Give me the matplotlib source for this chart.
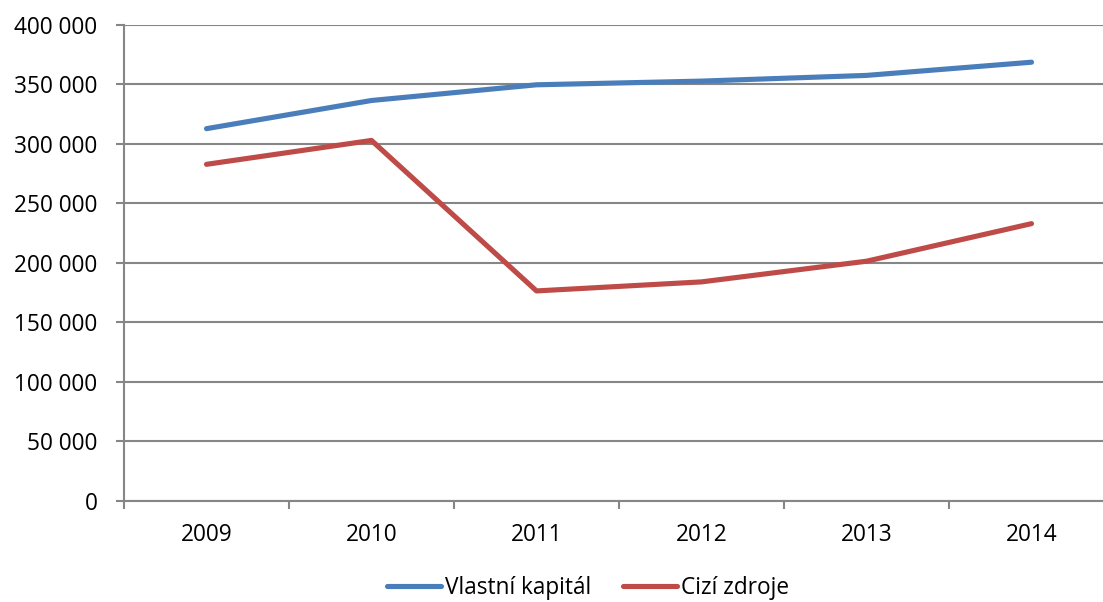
import matplotlib
matplotlib.use("Agg")
import matplotlib.pyplot as plt
from matplotlib.ticker import FixedLocator, FuncFormatter, MultipleLocator

years = ["2009", "2010", "2011", "2012", "2013", "2014"]
vlastni_kapital = [312800, 336500, 349700, 352800, 357600, 368700]
cizi_zdroje = [282800, 302900, 176300, 183900, 201300, 232900]

BLUE = "#4A7EBB"
RED = "#BE4B48"
GRID = "#868686"
FS = 16.3

plt.rcParams["font.family"] = ["Open Sans", "DejaVu Sans"]

W, H = 1103, 602
fig = plt.figure(figsize=(W / 100, H / 100), dpi=100)
left, right, top, bottom = 124, 124 + 6 * 165, 25, 500.5
ax = fig.add_axes([left / W, (H - bottom) / H, (right - left) / W, (bottom - top) / H])

x = list(range(len(years)))
ax.plot(x, vlastni_kapital, color=BLUE, lw=3.7, solid_capstyle="round",
        solid_joinstyle="round", label="Vlastní kapitál", zorder=3)
ax.plot(x, cizi_zdroje, color=RED, lw=3.7, solid_capstyle="round",
        solid_joinstyle="round", label="Cizí zdroje", zorder=3)

ax.set_xlim(-0.5, len(years) - 0.5)
ax.set_ylim(0, 400000)
ax.yaxis.set_major_locator(MultipleLocator(50000))
ax.yaxis.set_major_formatter(FuncFormatter(lambda v, p: f"{int(v):,}".replace(",", " ")))
ax.grid(axis="y", color=GRID, lw=1.5, zorder=1)

# category boundaries carry the tick marks, labels sit at the centres
ax.xaxis.set_major_locator(FixedLocator([i - 0.5 for i in range(len(years) + 1)]))
ax.xaxis.set_major_formatter(FuncFormatter(lambda v, p: ""))
ax.xaxis.set_minor_locator(FixedLocator(x))
ax.set_xticklabels(years, minor=True)
ax.tick_params(axis="x", which="major", length=6, width=1.5, color=GRID, direction="out")
ax.tick_params(axis="x", which="minor", length=0, pad=16, labelsize=FS)
ax.tick_params(axis="y", length=6, width=1.5, color=GRID, direction="out", pad=13, labelsize=FS)

for side in ("top", "right"):
    ax.spines[side].set_visible(False)
for side in ("left", "bottom"):
    ax.spines[side].set_color(GRID)
    ax.spines[side].set_linewidth(1.5)

fig.legend(loc="center", bbox_to_anchor=(588 / W, (H - 588) / H), ncol=2, frameon=False,
           fontsize=FS, handlelength=2.4, handletextpad=0.18, columnspacing=1.4)

fig.savefig("out.png", dpi=100, facecolor="white")
